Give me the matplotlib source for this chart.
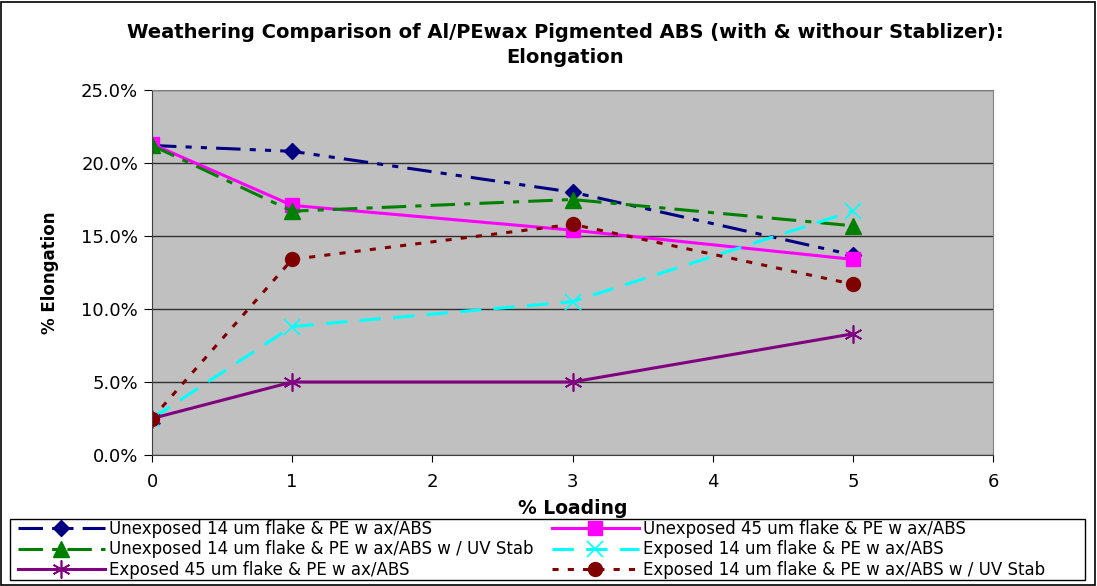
import matplotlib.pyplot as plt
from matplotlib.patches import Rectangle
from matplotlib.ticker import PercentFormatter

plt.rcParams['font.family'] = ['DejaVu Sans']

# data (% elongation vs % loading)
loading = [0, 1, 3, 5]
unexp14 = [21.2, 20.8, 18.0, 13.7]
unexp45 = [21.3, 17.1, 15.4, 13.4]
unexp14uv = [21.2, 16.7, 17.5, 15.7]
exp14 = [2.5, 8.8, 10.5, 16.7]
exp45 = [2.5, 5.0, 5.0, 8.3]
exp14uv = [2.5, 13.4, 15.8, 11.7]

labels = ['Unexposed 14 um flake & PE w ax/ABS',
          'Unexposed 45 um flake & PE w ax/ABS',
          'Unexposed 14 um flake & PE w ax/ABS w / UV Stab',
          'Exposed 14 um flake & PE w ax/ABS',
          'Exposed 45 um flake & PE w ax/ABS',
          'Exposed 14 um flake & PE w ax/ABS w / UV Stab']

W, H = 1097, 586
fig = plt.figure(figsize=(W / 100, H / 100), dpi=100)
fig.patches.append(Rectangle((1 / W, 1 / H), 1 - 3 / W, 1 - 3 / H, transform=fig.transFigure,
                             fill=False, edgecolor='black', lw=1.2))

ax = fig.add_axes([152 / W, 1 - 455 / H, (993 - 152) / W, (455 - 90) / H])
ax.set_facecolor('#C0C0C0')

lw = 2.2
ax.plot(loading, unexp14, color='#000080', marker='D', ms=8.5, lw=lw,
        dashes=(8, 3, 2, 3, 2, 3), label=labels[0])
ax.plot(loading, unexp45, color='#FF00FF', marker='s', ms=10.5, lw=lw, label=labels[1])
ax.plot(loading, unexp14uv, color='#008000', marker='^', ms=11, lw=lw,
        dashes=(8, 3, 2, 3), label=labels[2])
ax.plot(loading, exp14, color='#00FFFF', marker='x', ms=12, mew=1.2, lw=lw,
        dashes=(7, 4), label=labels[3])
ax.plot(loading, exp45, color='#800080', marker=(6, 2, 0), ms=13, mew=1.2, lw=lw,
        label=labels[4])
ax.plot(loading, exp14uv, color='#800000', marker='o', ms=10, lw=lw,
        dashes=(2, 3), label=labels[5])

ax.set_xlim(0, 6)
ax.set_ylim(0, 25)
ax.set_xticks(range(7))
ax.set_yticks([0, 5, 10, 15, 20, 25])
ax.yaxis.set_major_formatter(PercentFormatter(decimals=1))
ax.grid(axis='y', color='#303030', lw=1)
ax.set_axisbelow(True)
for s in ['top', 'right']:
    ax.spines[s].set_color('#808080')
for s in ['left', 'bottom']:
    ax.spines[s].set_color('#404040')
ax.tick_params(axis='y', labelsize=13, length=6, pad=4)
ax.tick_params(axis='x', labelsize=13, length=5, pad=8)

ax.set_xlabel('% Loading', fontsize=13.5, fontweight='bold', labelpad=6)
ax.set_ylabel('% Elongation', fontsize=12, fontweight='bold', labelpad=16)
fig.text(565 / W, 1 - 45 / H, 'Weathering Comparison of Al/PEwax Pigmented ABS (with & withour Stablizer):\nElongation',
         ha='center', va='center', fontsize=14, fontweight='bold', linespacing=1.4)

# legend: frame drawn separately, two legends so columns sit where they do in the original
fig.patches.append(Rectangle((10 / W, 1 - 580 / H), (1085 - 10) / W, 61 / H, transform=fig.transFigure,
                             fill=False, edgecolor='black', lw=1))
handles, labs = ax.get_legend_handles_labels()
legkw = dict(loc='upper left', fontsize=12, frameon=False, handlelength=5.2,
             borderpad=0, borderaxespad=0, labelspacing=0.15, handletextpad=0.25)
fig.legend([handles[i] for i in (0, 2, 4)], [labs[i] for i in (0, 2, 4)],
           bbox_to_anchor=(18 / W, 1 - 520 / H), **legkw)
fig.legend([handles[i] for i in (1, 3, 5)], [labs[i] for i in (1, 3, 5)],
           bbox_to_anchor=(552 / W, 1 - 520 / H), **legkw)

fig.savefig('out.png', dpi=100)
